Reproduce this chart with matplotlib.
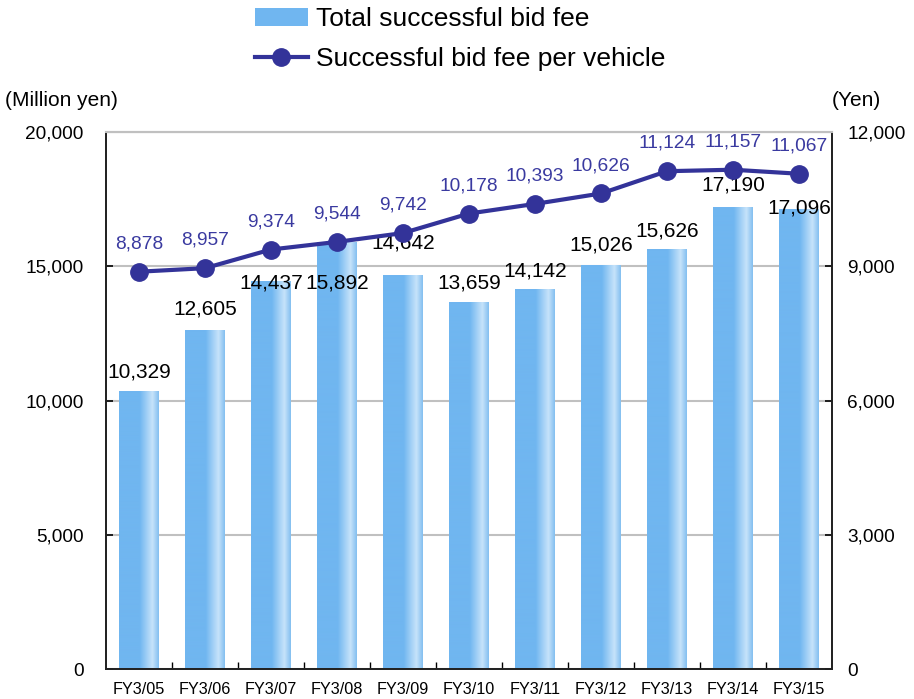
import numpy as np
import matplotlib
matplotlib.use('Agg')
import matplotlib.pyplot as plt
from matplotlib.colors import LinearSegmentedColormap
from matplotlib.patches import Patch
from matplotlib.lines import Line2D

plt.rcParams['font.family'] = ['Liberation Sans', 'DejaVu Sans']

# データ
years = ['FY3/05', 'FY3/06', 'FY3/07', 'FY3/08', 'FY3/09', 'FY3/10',
         'FY3/11', 'FY3/12', 'FY3/13', 'FY3/14', 'FY3/15']
total_fee = [10329, 12605, 14437, 15892, 14642, 13659, 14142, 15026, 15626, 17190, 17096]
fee_per_vehicle = [8878, 8957, 9374, 9544, 9742, 10178, 10393, 10626, 11124, 11157, 11067]

# 棒グラフのラベル位置（棒の上端からのずれ, pt）
bar_label_offset = [16, 17, 0, -28, 25, 15.5, 15, 16.5, 15, 18, 3]

base = '#70b6f0'
cmap = LinearSegmentedColormap.from_list(
    'bar', [(0, base), (0.52, base), (0.84, '#c6e3fa'), (1, '#84bff0')])
line_color = '#333399'

fig = plt.figure(figsize=(9.14, 6.99), dpi=100)
ax = fig.add_axes([106 / 914, 1 - 669 / 699, 726 / 914, 537 / 699])
ax2 = ax.twinx()

x = np.arange(len(years))
bars = ax.bar(x, total_fee, width=0.6, color=base, zorder=2)
grad = np.linspace(0, 1, 200)[None, :]
for b in bars:
    x0, w, h = b.get_x(), b.get_width(), b.get_height()
    ax.imshow(grad, cmap=cmap, extent=[x0, x0 + w, 0, h], aspect='auto',
              zorder=2.1, interpolation='bilinear')

for xi, v, off in zip(x, total_fee, bar_label_offset):
    ax.annotate(f'{v:,}', (xi, v), xytext=(0, off - 1.5), textcoords='offset points',
                ha='center', va='center', fontsize=15, color='black', zorder=5)

ax.set_xlim(-0.5, len(years) - 0.5)
ax.set_ylim(0, 20000)
ax.set_yticks(np.arange(0, 20001, 5000))
ax.set_yticklabels([f'{v:,}' for v in range(0, 20001, 5000)])
ax.yaxis.grid(True, color='#c0c0c0', linewidth=1.5)
ax.set_axisbelow(True)

ax.set_xticks(x[:-1] + 0.5)
ax.set_xticklabels([])
ax.set_xticks(x, minor=True)
ax.set_xticklabels(years, minor=True)
ax.tick_params(axis='x', which='major', direction='in', length=5, width=1)
ax.tick_params(axis='x', which='minor', length=0, pad=9, labelsize=11.7)
ax.tick_params(axis='y', direction='in', length=5, width=1.2, pad=16, labelsize=13.7)

ax2.plot(x, fee_per_vehicle, color=line_color, linewidth=3, marker='o',
         markersize=12.5, zorder=4)
for xi, v in zip(x, fee_per_vehicle):
    ax2.annotate(f'{v:,}', (xi, v), xytext=(0, 20), textcoords='offset points',
                 ha='center', va='center', fontsize=13.8, color='#3a3aa0')
ax2.set_ylim(0, 12000)
ax2.set_yticks(np.arange(0, 12001, 3000))
ax2.set_yticklabels([f'{v:,}' for v in range(0, 12001, 3000)])
ax2.tick_params(axis='y', direction='in', length=5, width=1.2, pad=11, labelsize=13.7)

for a in (ax, ax2):
    a.spines['top'].set_color('#c0c0c0')
    a.spines['top'].set_linewidth(1.5)
    for s in ('left', 'right', 'bottom'):
        a.spines[s].set_color('#222222')
        a.spines[s].set_linewidth(1.3)

fig.text(5 / 914, 1 - 100 / 699, '(Million yen)', fontsize=15, ha='left', va='center')
fig.text(881 / 914, 1 - 100 / 699, '(Yen)', fontsize=15, ha='right', va='center')

handles = [Patch(facecolor=base, edgecolor='none'),
           Line2D([], [], color=line_color, linewidth=3, marker='o', markersize=12.5)]
fig.legend(handles, ['Total successful bid fee', 'Successful bid fee per vehicle'],
           loc='upper left', bbox_to_anchor=(255 / 914, 1 - 7 / 699), frameon=False,
           fontsize=19, handlelength=2.0, handletextpad=0.3, labelspacing=0.6,
           borderpad=0, borderaxespad=0)

fig.savefig('out.png', dpi=100)
